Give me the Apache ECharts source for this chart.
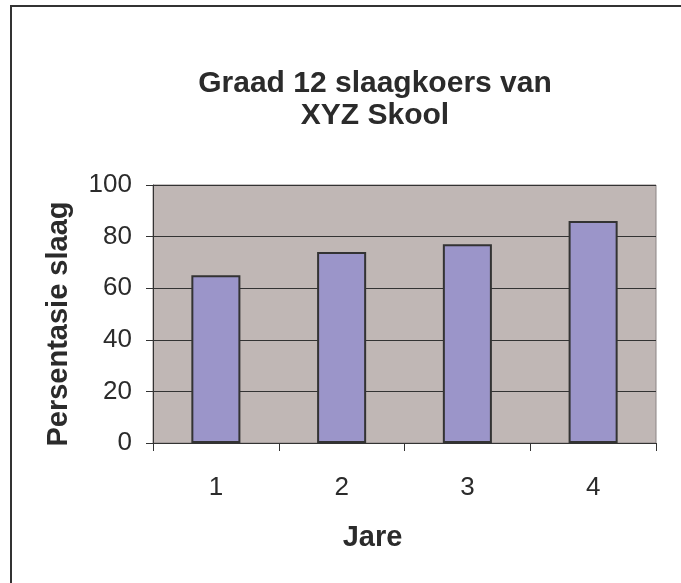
<!DOCTYPE html>
<html>
<head>
<meta charset="utf-8">
<script src="https://cdn.jsdelivr.net/npm/echarts@6/dist/echarts.min.js"></script>
<style>
  html, body { margin: 0; padding: 0; background: #fff; }
  #chart { width: 681px; height: 583px; }
</style>
</head>
<body>
<div id="chart"></div>
<script>
// data
var years = ["1", "2", "3", "4"];
var passRate = [65, 74, 77, 86];
var yTicks = [0, 20, 40, 60, 80, 100];

var chart = echarts.init(document.getElementById("chart"));
chart.setOption({
  animation: false,
  textStyle: { fontFamily: "Liberation Sans, Arial, sans-serif" },
  graphic: [
    {
      type: "rect",
      shape: { x: 11, y: 6, width: 700, height: 700 },
      style: { fill: "none", stroke: "#333", lineWidth: 2 },
      silent: true
    }
  ],
  title: {
    text: "Graad 12 slaagkoers van\nXYZ Skool",
    left: 370,
    top: 63,
    textAlign: "center",
    textStyle: {
      fontSize: 30,
      fontWeight: "bold",
      color: "#2b2b2b",
      lineHeight: 32
    }
  },
  grid: {
    left: 153,
    right: 25,
    top: 185,
    bottom: 140,
    show: true,
    backgroundColor: "#c0b7b5",
    borderColor: "#8c8484",
    borderWidth: 1
  },
  xAxis: {
    type: "category",
    data: years,
    name: "Jare",
    nameLocation: "middle",
    nameGap: 80,
    nameTextStyle: { fontSize: 29, fontWeight: "bold", color: "#2b2b2b", padding: [0, 64, 0, 0] },
    axisLine: { lineStyle: { color: "#333", width: 1 } },
    axisTick: { show: true, length: 8, alignWithLabel: false, lineStyle: { color: "#333" } },
    axisLabel: { fontSize: 26, color: "#2b2b2b", margin: 32 }
  },
  yAxis: {
    type: "value",
    min: yTicks[0],
    max: yTicks[yTicks.length - 1],
    interval: yTicks[1] - yTicks[0],
    name: "Persentasie slaag",
    nameLocation: "middle",
    nameGap: 80,
    nameTextStyle: { fontSize: 29, fontWeight: "bold", color: "#2b2b2b", padding: [0, 20, 0, 0] },
    axisLine: { show: true, lineStyle: { color: "#333", width: 1 } },
    axisTick: { show: true, length: 7, lineStyle: { color: "#333" } },
    axisLabel: { fontSize: 26, color: "#2b2b2b", margin: 21 },
    splitLine: { show: true, lineStyle: { color: "#333", width: 1 } }
  },
  series: [
    {
      type: "bar",
      data: passRate,
      barWidth: "39%",
      itemStyle: { color: "#9b95c9", borderColor: "#333", borderWidth: 2 }
    }
  ]
});
</script>
</body>
</html>
